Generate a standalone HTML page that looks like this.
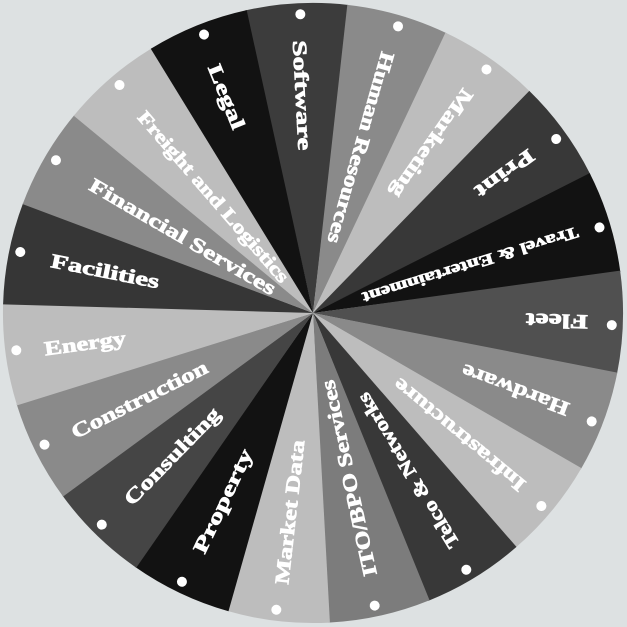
<!DOCTYPE html>
<html><head><meta charset="utf-8"><style>
html,body{margin:0;padding:0;background:#dde1e2;}
svg{display:block}
text{font-family:"Liberation Serif",serif;font-weight:bold;fill:#fff;stroke:#fff;stroke-width:0.7;dominant-baseline:central}
</style></head><body>
<svg width="627" height="627" viewBox="0 0 627 627" xmlns="http://www.w3.org/2000/svg">
<rect width="627" height="627" fill="#dde1e2"/>
<defs>
<path id="w" d="M313,313 L261.3,7.3 A310,310 0 0 1 364.7,7.3 Z"/>
</defs>
<g>
<use href="#w" fill="#3c3c3c" transform="rotate(-3 313 313)"/>
<use href="#w" fill="#8a8a8a" transform="rotate(15.95 313 313)"/>
<use href="#w" fill="#bdbdbd" transform="rotate(34.89 313 313)"/>
<use href="#w" fill="#383838" transform="rotate(53.84 313 313)"/>
<use href="#w" fill="#121212" transform="rotate(72.79 313 313)"/>
<use href="#w" fill="#505050" transform="rotate(91.74 313 313)"/>
<use href="#w" fill="#8a8a8a" transform="rotate(110.68 313 313)"/>
<use href="#w" fill="#bdbdbd" transform="rotate(129.63 313 313)"/>
<use href="#w" fill="#383838" transform="rotate(148.58 313 313)"/>
<use href="#w" fill="#7c7c7c" transform="rotate(167.52 313 313)"/>
<use href="#w" fill="#bdbdbd" transform="rotate(186.47 313 313)"/>
<use href="#w" fill="#121212" transform="rotate(205.42 313 313)"/>
<use href="#w" fill="#454545" transform="rotate(224.36 313 313)"/>
<use href="#w" fill="#8a8a8a" transform="rotate(243.31 313 313)"/>
<use href="#w" fill="#bdbdbd" transform="rotate(262.26 313 313)"/>
<use href="#w" fill="#363636" transform="rotate(281.2 313 313)"/>
<use href="#w" fill="#8a8a8a" transform="rotate(300.15 313 313)"/>
<use href="#w" fill="#bdbdbd" transform="rotate(319.1 313 313)"/>
<use href="#w" fill="#121212" transform="rotate(338.05 313 313)"/>
</g>
<g>
<g transform="rotate(-3 313 313)"><circle cx="316" cy="14" r="5" fill="#fff"/><text x="313" y="40" font-size="20" textLength="110" lengthAdjust="spacingAndGlyphs" transform="rotate(90 313 40)">Software</text></g>
<g transform="rotate(15.95 313 313)"><circle cx="316" cy="14" r="5" fill="#fff"/><text x="313" y="42" font-size="20" textLength="198" lengthAdjust="spacingAndGlyphs" transform="rotate(90 313 42)">Human Resources</text></g>
<g transform="rotate(34.89 313 313)"><circle cx="316" cy="14" r="5" fill="#fff"/><text x="313" y="42" font-size="20" textLength="128" lengthAdjust="spacingAndGlyphs" transform="rotate(90 313 42)">Marketing</text></g>
<g transform="rotate(53.84 313 313)"><circle cx="316" cy="14" r="5" fill="#fff"/><text x="313" y="42" font-size="20" textLength="68" lengthAdjust="spacingAndGlyphs" transform="rotate(90 313 42)">Print</text></g>
<g transform="rotate(72.79 313 313)"><circle cx="316" cy="14" r="5" fill="#fff"/><text x="313" y="36" font-size="16" textLength="225" lengthAdjust="spacingAndGlyphs" transform="rotate(90 313 36)">Travel &amp; Entertainment</text></g>
<g transform="rotate(91.74 313 313)"><circle cx="316" cy="14" r="5" fill="#fff"/><text x="313" y="38" font-size="20" textLength="62" lengthAdjust="spacingAndGlyphs" transform="rotate(90 313 38)">Fleet</text></g>
<g transform="rotate(110.68 313 313)"><circle cx="316" cy="14" r="5" fill="#fff"/><text x="313" y="40" font-size="20" textLength="113" lengthAdjust="spacingAndGlyphs" transform="rotate(90 313 40)">Hardware</text></g>
<g transform="rotate(129.63 313 313)"><circle cx="316" cy="14" r="5" fill="#fff"/><text x="313" y="40" font-size="20" textLength="165" lengthAdjust="spacingAndGlyphs" transform="rotate(90 313 40)">Infrastructure</text></g>
<g transform="rotate(148.58 313 313)"><circle cx="316" cy="14" r="5" fill="#fff"/><text x="313" y="40" font-size="19" textLength="178" lengthAdjust="spacingAndGlyphs" transform="rotate(90 313 40)">Telco &amp; Networks</text></g>
<g transform="rotate(167.52 313 313)"><circle cx="316" cy="14" r="5" fill="#fff"/><text x="313" y="44" font-size="20" textLength="200" lengthAdjust="spacingAndGlyphs" transform="rotate(90 313 44)">ITO/BPO Services</text></g>
<g transform="rotate(186.47 313 313)"><circle cx="316" cy="14" r="5" fill="#fff"/><text x="313" y="40" font-size="20" textLength="145" lengthAdjust="spacingAndGlyphs" fill="#f2f2f2" stroke="#f2f2f2" transform="rotate(90 313 40)">Market Data</text></g>
<g transform="rotate(205.42 313 313)"><circle cx="316" cy="14" r="5" fill="#fff"/><text x="313" y="48" font-size="20" textLength="113" lengthAdjust="spacingAndGlyphs" transform="rotate(90 313 48)">Property</text></g>
<g transform="rotate(224.36 313 313)"><circle cx="316" cy="14" r="5" fill="#fff"/><text x="313" y="48" font-size="20" textLength="128" lengthAdjust="spacingAndGlyphs" transform="rotate(90 313 48)">Consulting</text></g>
<g transform="rotate(243.31 313 313)"><circle cx="316" cy="14" r="5" fill="#fff"/><text x="313" y="44" font-size="20" textLength="150" lengthAdjust="spacingAndGlyphs" transform="rotate(90 313 44)">Construction</text></g>
<g transform="rotate(262.26 313 313)"><circle cx="316" cy="14" r="5" fill="#fff"/><text x="313" y="42" font-size="20" textLength="82" lengthAdjust="spacingAndGlyphs" fill="#f2f2f2" stroke="#f2f2f2" transform="rotate(90 313 42)">Energy</text></g>
<g transform="rotate(281.2 313 313)"><circle cx="316" cy="14" r="5" fill="#fff"/><text x="313" y="46" font-size="20" textLength="110" lengthAdjust="spacingAndGlyphs" transform="rotate(90 313 46)">Facilities</text></g>
<g transform="rotate(300.15 313 313)"><circle cx="316" cy="14" r="5" fill="#fff"/><text x="313" y="56" font-size="20" textLength="212" lengthAdjust="spacingAndGlyphs" transform="rotate(90 313 56)">Financial Services</text></g>
<g transform="rotate(319.1 313 313)"><circle cx="316" cy="14" r="5" fill="#fff"/><text x="313" y="50" font-size="19" textLength="220" lengthAdjust="spacingAndGlyphs" transform="rotate(90 313 50)">Freight and Logistics</text></g>
<g transform="rotate(338.05 313 313)"><circle cx="316" cy="14" r="5" fill="#fff"/><text x="313" y="46" font-size="20" textLength="68" lengthAdjust="spacingAndGlyphs" transform="rotate(90 313 46)">Legal</text></g>
</g>
</svg>
</body></html>
